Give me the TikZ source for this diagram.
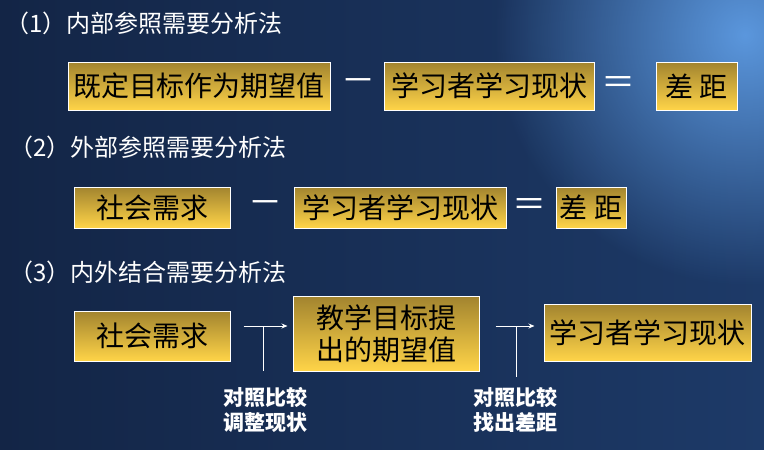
\documentclass[tikz,border=0pt]{standalone}
\usepackage{fontspec}
\setmainfont{Noto Sans CJK SC}
\usepackage{tikz}
\usetikzlibrary{arrows.meta, positioning, fadings}
\definecolor{bgdark}{HTML}{132546}
\definecolor{bgmid}{HTML}{1D3A68}
\definecolor{bglight}{HTML}{5B97DD}
\definecolor{goldtop}{HTML}{A2842F}
\definecolor{goldbot}{HTML}{FFD448}
\tikzfading[name=glow, inner color=transparent!0, outer color=transparent!100]

\begin{document}
\begin{tikzpicture}[
  x=1pt, y=-1pt,
  title/.style={anchor=west, text=white, font=\fontsize{24}{28}\selectfont},
  goal/.style={draw=white, line width=1pt, top color=goldtop, bottom color=goldbot,
               inner sep=0pt, align=center, font=\fontsize{28}{32}\selectfont},
  sign/.style={text=white, inner sep=0pt, font=\fontsize{34}{34}\selectfont},
  note/.style={text=white, align=center, font=\fontsize{21}{25}\selectfont\bfseries},
  arrow/.style={-{Stealth[length=6pt, width=5pt]}, white, line width=1pt},
  stem/.style={white, line width=1pt},
]
\shade[left color=bgdark, right color=bgmid] (0,0) rectangle (764,450);
\begin{scope}
  \clip (0,0) rectangle (764,450);
  \fill[bglight, path fading=glow] (745,35) circle (250);
\end{scope}
\useasboundingbox (0,0) rectangle (764,450);

\node[title] (t1) at (2,23) {（1）内部参照需要分析法};
\node[goal, minimum width=262pt, minimum height=48pt] (a1) at (199,86) {既定目标作为期望值};
\node[sign] (m1) at (358,86) {－};
\node[goal, minimum width=210pt, minimum height=48pt] (a2) at (489,86) {学习者学习现状};
\node[sign] (e1) at (618,86) {＝};
\node[goal, minimum width=81pt, minimum height=48pt] (a3) at (696.5,86) {差 距};

\node[title] (t2) at (6,147) {（2）外部参照需要分析法};
\node[goal, minimum width=156pt, minimum height=41pt] (b1) at (152,207.5) {社会需求};
\node[sign] (m2) at (265,207.5) {－};
\node[goal, minimum width=212pt, minimum height=41pt] (b2) at (400,207.5) {学习者学习现状};
\node[sign] (e2) at (529,207.5) {＝};
\node[goal, minimum width=70pt, minimum height=41pt] (b3) at (591,207.5) {差 距};

\node[title] (t3) at (6,272) {（3）内外结合需要分析法};
\node[goal, minimum width=156pt, minimum height=50pt] (c1) at (152,336) {社会需求};
\node[goal, minimum width=186pt, minimum height=75pt] (c2) at (386,333.5) {教学目标提\\出的期望值};
\node[goal, minimum width=207pt, minimum height=57pt] (c3) at (647.5,332.5) {学习者学习现状};

\coordinate (j1) at (263,326);
\coordinate (k1) at (263,371);
\coordinate (j2) at (516,326);
\coordinate (k2) at (516,377);
\draw[arrow, shorten <=13pt, shorten >=5pt] (c1.east |- j1) -- (c2.west |- j1);
\draw[stem] (j1) -- (k1);
\draw[arrow, shorten <=16pt, shorten >=9pt] (c2.east |- j2) -- (c3.west |- j2);
\draw[stem] (j2) -- (k2);
\node[note] (n1) at (265,410) {对照比较\\调整现状};
\node[note] (n2) at (515,410) {对照比较\\找出差距};
\end{tikzpicture}
\end{document}
